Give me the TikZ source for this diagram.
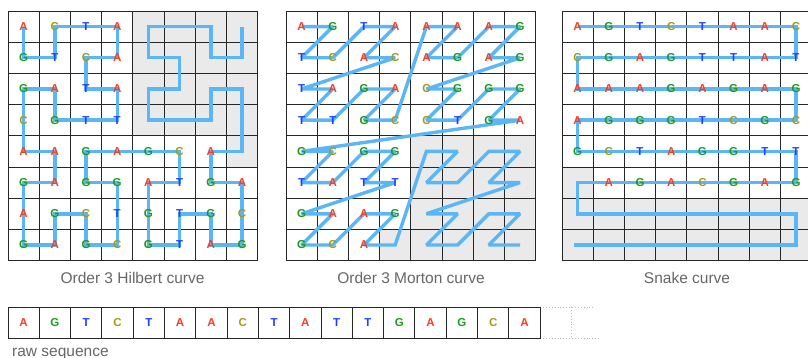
\documentclass[tikz,border=0pt]{standalone}
\usepackage{fontspec}
\setmainfont{Liberation Sans}
\definecolor{cA}{HTML}{FF3B1F}
\definecolor{cG}{HTML}{1E9A1E}
\definecolor{cT}{HTML}{1F3FFF}
\definecolor{cC}{HTML}{A29C14}
\definecolor{curvec}{HTML}{5AB6F6}
\definecolor{shadec}{HTML}{EAEAEA}
\definecolor{labelc}{HTML}{666666}
\definecolor{dotc}{HTML}{BBBBBB}
\tikzset{
  gridline/.style={draw=black!85, line width=0.9pt},
  shadecell/.style={fill=shadec},
  curveline/.style={draw=curvec, line width=3.4pt, line join=miter, miter limit=2},
  basel/.style={font=\fontsize{11.5}{12}\selectfont\bfseries, inner sep=0pt},
  bA/.style={basel, text=cA},
  bG/.style={basel, text=cG},
  bT/.style={basel, text=cT},
  bC/.style={basel, text=cC},
  caption/.style={font=\fontsize{15.5}{17}\selectfont, text=labelc, anchor=base, inner sep=0pt},
  dotline/.style={draw=dotc, dotted, line width=0.9pt},
}
\def\dashmark{-}
\newcommand{\lettergrid}[2]{%
  \foreach \rowlist [count=\r from 0] in {#2} {%
    \foreach \l [count=\c from 0] in \rowlist {%
      \ifx\l\dashmark\else
        \node[b\l] (#1-\r-\c) at (\c,\r) {\l};%
      \fi
    }%
  }%
}
\begin{document}
\begin{tikzpicture}[x=1pt,y=-1pt]
\useasboundingbox (0,0) rectangle (808,358);
\clip (0,0) rectangle (808,358);

% ---------- Hilbert ----------
\begin{scope}[shift={(8,11)},x=31.2pt,y=-31.2pt]
  \fill[shadecell] (4,0) rectangle (8,4) (7,4) rectangle (8,5);
  \foreach \i in {0,...,8} {\draw[gridline] (\i,0) -- (\i,8); \draw[gridline] (0,\i) -- (8,\i);}
  \begin{scope}[shift={(0.5,0.5)}]
    \draw[curveline] (0,0) -- (0,1) -- (1,1) -- (1,0) -- (2,0) -- (3,0) -- (3,1) -- (2,1) -- (2,2) -- (3,2) -- (3,3) -- (2,3) -- (1,3) -- (1,2) -- (0,2) -- (0,3) -- (0,4) -- (1,4) -- (1,5) -- (0,5) -- (0,6) -- (0,7) -- (1,7) -- (1,6) -- (2,6) -- (2,7) -- (3,7) -- (3,6) -- (3,5) -- (2,5) -- (2,4) -- (3,4) -- (4,4) -- (5,4) -- (5,5) -- (4,5) -- (4,6) -- (4,7) -- (5,7) -- (5,6) -- (6,6) -- (6,7) -- (7,7) -- (7,6) -- (7,5) -- (6,5) -- (6,4) -- (7,4) -- (7,3) -- (7,2) -- (6,2) -- (6,3) -- (5,3) -- (4,3) -- (4,2) -- (5,2) -- (5,1) -- (4,1) -- (4,0) -- (5,0) -- (6,0) -- (6,1) -- (7,1) -- (7,0);
    \lettergrid{h}{{A,C,T,A,-,-,-,-},{G,T,C,A,-,-,-,-},{G,A,T,A,-,-,-,-},{C,G,T,T,-,-,-,-},{A,A,G,A,G,C,A,-},{G,A,G,G,A,T,G,A},{A,G,C,T,G,T,G,C},{G,A,G,C,G,T,A,G}}
  \end{scope}
\end{scope}
\node[caption] (hcap) at (132.5,283) {Order 3 Hilbert curve};

% ---------- Morton ----------
\begin{scope}[shift={(286,11)},x=31.2pt,y=-31.2pt]
  \fill[shadecell] (4,4) rectangle (8,8) (3,7) rectangle (4,8);
  \foreach \i in {0,...,8} {\draw[gridline] (\i,0) -- (\i,8); \draw[gridline] (0,\i) -- (8,\i);}
  \begin{scope}[shift={(0.5,0.5)}]
    \draw[curveline] (0,0) -- (1,0) -- (0,1) -- (1,1) -- (2,0) -- (3,0) -- (2,1) -- (3,1) -- (0,2) -- (1,2) -- (0,3) -- (1,3) -- (2,2) -- (3,2) -- (2,3) -- (3,3)
      -- (4,0) -- (5,0) -- (4,1) -- (5,1) -- (6,0) -- (7,0) -- (6,1) -- (7,1) -- (4,2) -- (5,2) -- (4,3) -- (5,3) -- (6,2) -- (7,2) -- (6,3) -- (7,3)
      -- (0,4) -- (1,4) -- (0,5) -- (1,5) -- (2,4) -- (3,4) -- (2,5) -- (3,5) -- (0,6) -- (1,6) -- (0,7) -- (1,7) -- (2,6) -- (3,6) -- (2,7) -- (3,7)
      -- (4,4) -- (5,4) -- (4,5) -- (5,5) -- (6,4) -- (7,4) -- (6,5) -- (7,5) -- (4,6) -- (5,6) -- (4,7) -- (5,7) -- (6,6) -- (7,6) -- (6,7) -- (7,7);
    \lettergrid{m}{{A,G,T,A,A,A,A,G},{T,C,A,C,A,G,A,G},{T,A,G,A,C,G,G,G},{T,T,G,C,C,T,G,A},{G,C,G,G,-,-,-,-},{T,A,T,T,-,-,-,-},{G,A,A,G,-,-,-,-},{G,C,A,-,-,-,-,-}}
  \end{scope}
\end{scope}
\node[caption] (mcap) at (411,283) {Order 3 Morton curve};

% ---------- Snake ----------
\begin{scope}[shift={(562,11)},x=31.2pt,y=-31.2pt]
  \fill[shadecell] (0,5) rectangle (1,6) (0,6) rectangle (8,8);
  \foreach \i in {0,...,8} {\draw[gridline] (\i,0) -- (\i,8); \draw[gridline] (0,\i) -- (8,\i);}
  \begin{scope}[shift={(0.5,0.5)}]
    \draw[curveline] (0,0) -- (7,0) -- (7,1) -- (0,1) -- (0,2) -- (7,2) -- (7,3) -- (0,3) -- (0,4) -- (7,4) -- (7,5) -- (0,5) -- (0,6) -- (7,6) -- (7,7) -- (-0.1,7);
    \lettergrid{s}{{A,G,T,C,T,A,A,C},{C,G,A,G,T,T,A,T},{A,A,A,G,A,G,A,G},{A,G,G,G,T,C,G,C},{G,C,T,A,G,G,T,T},{-,A,G,A,C,G,A,G}}
  \end{scope}
\end{scope}
\node[caption] (scap) at (687,283) {Snake curve};

% ---------- raw sequence ----------
\begin{scope}[shift={(8,307)},x=31.3pt,y=-31.6pt]
  \draw[dotline] (17,0) -- (18.72,0);
  \draw[dotline] (17,1) -- (18.91,1);
  \draw[dotline] (18,0) -- (18,1);
  \foreach \i in {0,...,17} {\draw[gridline] (\i,0) -- (\i,1);}
  \draw[gridline] (0,0) -- (17,0) (0,1) -- (17,1);
  \begin{scope}[shift={(0.5,0.5)}]
    \lettergrid{q}{{A,G,T,C,T,A,A,C,T,A,T,T,G,A,G,C,A}}
  \end{scope}
\end{scope}
\node[caption, anchor=base west] (rawcap) at (12,356) {raw sequence};
\end{tikzpicture}
\end{document}
